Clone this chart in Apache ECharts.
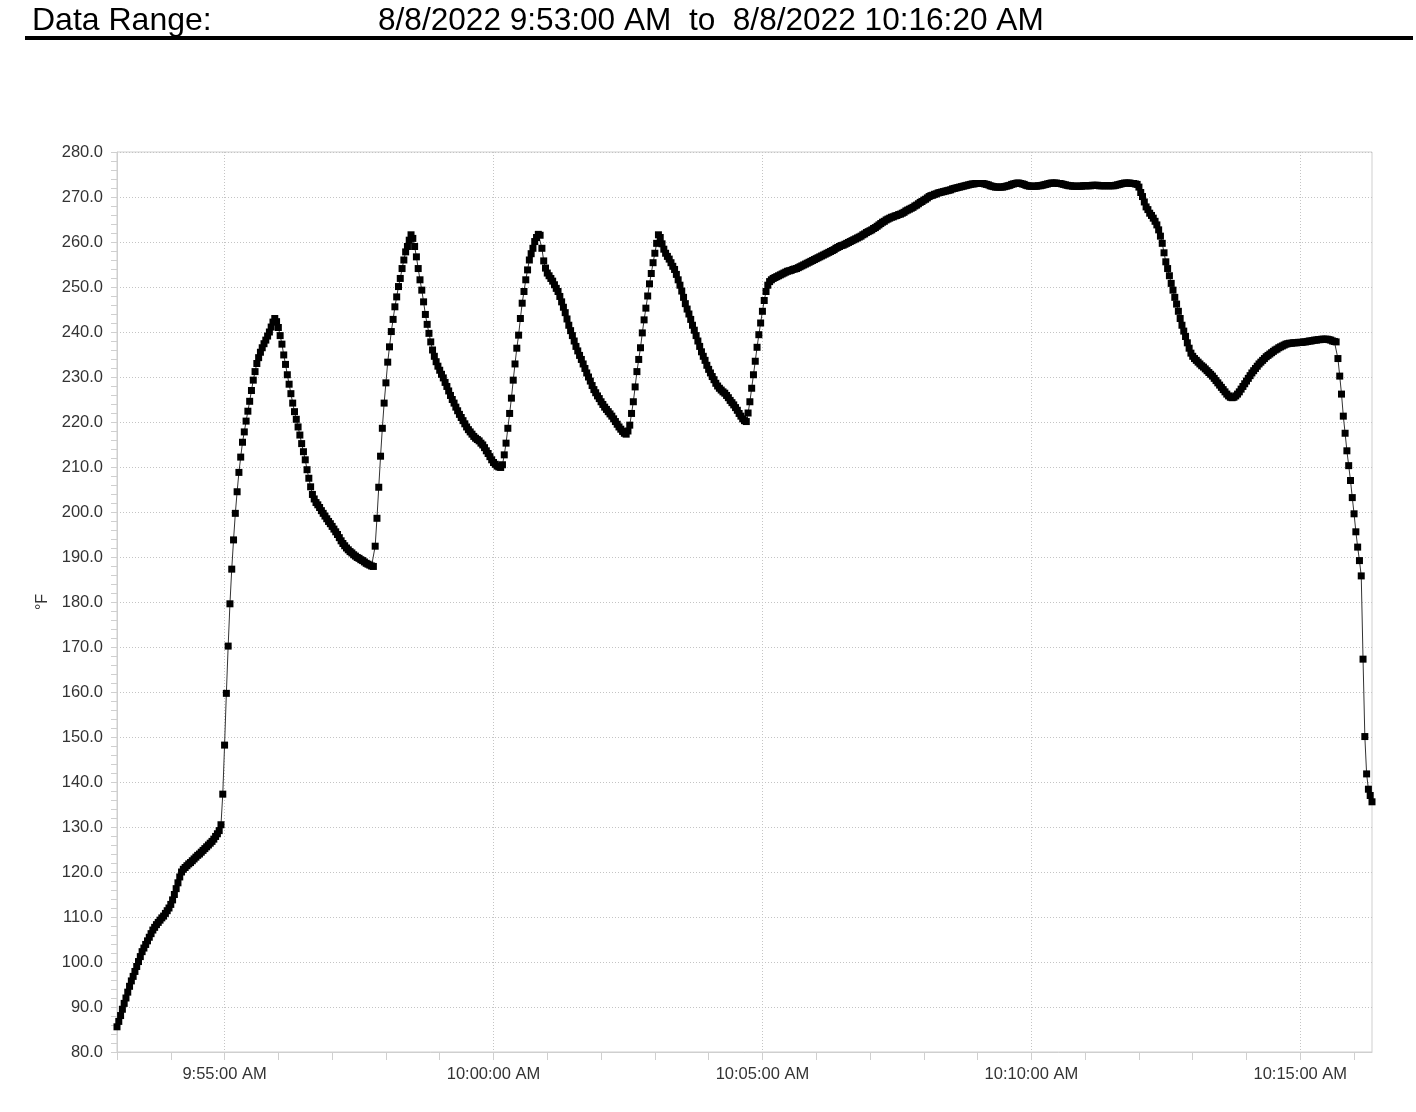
<!DOCTYPE html>
<html>
<head>
<meta charset="utf-8">
<title>Temperature log</title>
<script src="https://cdn.jsdelivr.net/npm/echarts@6/dist/echarts.min.js"></script>
<style>
  html, body { margin: 0; padding: 0; background: #fff; }
  #chart { width: 1416px; height: 1112px; }
</style>
</head>
<body>
<div id="chart"></div>
<script>
// logger samples every 2 s, starting 8/8/2022 9:53:00 AM
const startSec = 9 * 3600 + 53 * 60;
const stepSec = 2;

// temperature (°F), one array per minute of the log
let m0953 = [85.6, 86.8, 88.1, 89.5, 90.8, 92.0, 93.3, 94.6, 95.8, 96.8,
    97.9, 99.0, 100.1, 101.2, 102.3, 103.1, 103.9, 104.7, 105.5, 106.3,
    107.1, 107.7, 108.3, 108.8, 109.3, 109.8, 110.2, 110.8, 111.4, 112.0];
let m0954 = [112.8, 113.8, 115.0, 116.3, 117.6, 118.9, 120.0, 120.6, 121.0, 121.4,
    121.8, 122.1, 122.5, 122.9, 123.3, 123.7, 124.0, 124.4, 124.8, 125.2,
    125.6, 126.0, 126.4, 126.8, 127.3, 127.9, 128.5, 129.2, 130.5, 137.3];
let m0955 = [148.2, 159.7, 170.2, 179.6, 187.3, 193.8, 199.7, 204.5, 208.8, 212.2,
    215.5, 217.8, 220.2, 222.4, 224.6, 227.0, 229.3, 231.2, 233.0, 234.3,
    235.5, 236.5, 237.4, 238.2, 239.1, 240.0, 241.1, 242.2, 243.0, 242.3];
let m0956 = [241.0, 239.2, 237.3, 234.9, 232.8, 230.5, 228.4, 226.3, 224.2, 222.3,
    220.6, 218.9, 217.1, 215.2, 213.4, 211.6, 209.4, 207.5, 205.6, 203.9,
    202.9, 202.1, 201.6, 201.0, 200.3, 199.7, 199.1, 198.5, 197.9, 197.4];
let m0957 = [196.8, 196.2, 195.6, 195.0, 194.3, 193.6, 193.0, 192.5, 192.0, 191.6,
    191.2, 190.9, 190.5, 190.2, 189.9, 189.7, 189.4, 189.2, 188.9, 188.6,
    188.4, 188.2, 188.0, 187.9, 192.4, 198.6, 205.5, 212.4, 218.6, 224.2];
let m0958 = [228.7, 233.3, 236.7, 240.1, 242.8, 245.6, 247.8, 250.1, 251.9, 254.1,
    256.0, 257.8, 259.0, 260.4, 261.6, 260.8, 259.0, 256.7, 254.1, 251.6,
    249.3, 246.7, 243.9, 241.7, 239.7, 237.8, 236.0, 234.6, 233.4, 232.4];
let m0959 = [231.5, 230.6, 229.8, 228.8, 227.9, 226.9, 225.9, 225.0, 224.2, 223.3,
    222.5, 221.7, 221.0, 220.3, 219.6, 218.9, 218.3, 217.8, 217.3, 216.8,
    216.4, 216.1, 215.8, 215.3, 214.9, 214.3, 213.6, 213.0, 212.3, 211.6];
let m1000 = [211.0, 210.6, 210.2, 210.0, 209.9, 210.5, 212.7, 215.3, 218.6, 221.9,
    225.3, 229.3, 232.9, 236.4, 239.3, 243.0, 246.4, 249.0, 251.6, 253.8,
    256.0, 257.4, 258.6, 260.1, 261.0, 261.7, 261.5, 258.6, 255.8, 254.2];
let m1001 = [253.1, 252.5, 251.9, 251.3, 250.5, 249.7, 249.0, 247.9, 246.7, 245.5,
    244.3, 242.9, 241.5, 240.3, 239.2, 238.0, 236.8, 235.8, 234.8, 233.9,
    232.9, 231.9, 230.9, 230.0, 229.1, 228.1, 227.2, 226.5, 225.8, 225.2];
let m1002 = [224.5, 223.9, 223.3, 222.8, 222.3, 221.8, 221.3, 220.7, 220.1, 219.5,
    218.9, 218.4, 217.9, 217.5, 217.3, 218.0, 219.3, 221.9, 224.5, 227.8,
    231.2, 233.9, 236.5, 239.8, 242.7, 245.3, 248.0, 250.7, 253.0, 255.4];
let m1003 = [257.5, 259.7, 261.6, 261.0, 259.6, 258.4, 257.5, 256.8, 256.2, 255.4,
    254.6, 253.9, 252.8, 251.6, 250.4, 249.1, 247.7, 246.3, 245.1, 244.0,
    242.8, 241.5, 240.4, 239.2, 238.0, 236.8, 235.6, 234.6, 233.7, 232.6];
let m1004 = [231.7, 230.9, 230.1, 229.4, 228.6, 228.0, 227.5, 227.1, 226.7, 226.4,
    225.9, 225.4, 224.8, 224.3, 223.8, 223.2, 222.6, 221.9, 221.3, 220.7,
    220.3, 220.1, 222.0, 224.5, 227.5, 230.5, 233.5, 236.6, 239.4, 242.0];
let m1005 = [244.6, 247.0, 249.0, 250.4, 251.2, 251.6, 251.9, 252.1, 252.3, 252.5,
    252.7, 252.9, 253.1, 253.3, 253.5, 253.6, 253.7, 253.9, 254.0, 254.1,
    254.3, 254.5, 254.7, 254.9, 255.1, 255.3, 255.5, 255.7, 255.9, 256.1];
let m1006 = [256.3, 256.5, 256.7, 256.9, 257.1, 257.3, 257.5, 257.7, 257.9, 258.1,
    258.3, 258.6, 258.8, 259.0, 259.2, 259.3, 259.5, 259.7, 259.9, 260.1,
    260.3, 260.5, 260.7, 260.9, 261.1, 261.3, 261.6, 261.8, 262.1, 262.3];
let m1007 = [262.5, 262.7, 263.0, 263.2, 263.5, 263.8, 264.1, 264.4, 264.6, 264.9,
    265.1, 265.3, 265.5, 265.6, 265.8, 265.9, 266.1, 266.2, 266.4, 266.6,
    266.9, 267.1, 267.3, 267.5, 267.7, 268.0, 268.2, 268.5, 268.8, 269.0];
let m1008 = [269.3, 269.5, 269.8, 270.1, 270.3, 270.4, 270.6, 270.7, 270.9, 271.0,
    271.1, 271.2, 271.3, 271.4, 271.5, 271.6, 271.8, 271.9, 272.0, 272.1,
    272.2, 272.3, 272.4, 272.5, 272.6, 272.7, 272.8, 272.9, 272.9, 273.0];
let m1009 = [273.0, 273.0, 273.0, 273.0, 272.9, 272.8, 272.7, 272.5, 272.4, 272.3,
    272.2, 272.2, 272.2, 272.2, 272.2, 272.3, 272.4, 272.5, 272.6, 272.8,
    272.9, 273.0, 273.1, 273.1, 273.0, 272.9, 272.8, 272.6, 272.5, 272.4];
let m1010 = [272.4, 272.4, 272.4, 272.4, 272.5, 272.5, 272.6, 272.7, 272.8, 272.9,
    273.0, 273.1, 273.1, 273.1, 273.1, 273.0, 273.0, 272.9, 272.8, 272.7,
    272.6, 272.5, 272.5, 272.4, 272.4, 272.4, 272.4, 272.4, 272.4, 272.5];
let m1011 = [272.5, 272.5, 272.5, 272.5, 272.6, 272.6, 272.6, 272.6, 272.5, 272.5,
    272.5, 272.5, 272.5, 272.5, 272.5, 272.5, 272.5, 272.6, 272.7, 272.8,
    272.9, 273.0, 273.1, 273.1, 273.1, 273.1, 273.0, 273.0, 272.9, 272.8];
let m1012 = [272.2, 271.0, 270.1, 268.9, 267.8, 267.2, 266.4, 265.9, 265.3, 264.6,
    263.8, 262.7, 261.3, 259.7, 257.6, 255.6, 254.1, 252.5, 250.8, 249.3,
    247.7, 246.2, 244.6, 243.0, 241.5, 240.2, 239.0, 237.6, 236.4, 235.3];
let m1013 = [234.6, 234.1, 233.7, 233.3, 232.9, 232.5, 232.2, 231.8, 231.4, 231.0,
    230.6, 230.2, 229.7, 229.2, 228.7, 228.2, 227.7, 227.2, 226.7, 226.2,
    225.8, 225.5, 225.4, 225.5, 225.8, 226.2, 226.7, 227.3, 227.9, 228.5];
let m1014 = [229.1, 229.7, 230.3, 230.9, 231.4, 231.9, 232.4, 232.9, 233.3, 233.7,
    234.1, 234.5, 234.8, 235.1, 235.4, 235.7, 236.0, 236.2, 236.5, 236.7,
    236.9, 237.1, 237.3, 237.4, 237.5, 237.5, 237.6, 237.6, 237.6, 237.7];
let m1015 = [237.7, 237.7, 237.8, 237.8, 237.9, 238.0, 238.0, 238.1, 238.2, 238.2,
    238.3, 238.3, 238.4, 238.4, 238.4, 238.4, 238.3, 238.2, 238.0, 237.9,
    237.8, 234.1, 230.2, 226.2, 221.3, 217.5, 213.6, 210.3, 207.0, 203.2];
let m1016 = [199.6, 195.6, 192.2, 189.2, 185.8, 167.3, 150.1, 141.8, 138.4, 137.0, 135.6];

let tempF = [].concat(m0953, m0954, m0955, m0956, m0957, m0958, m0959, m1000,
    m1001, m1002, m1003, m1004, m1005, m1006, m1007, m1008, m1009, m1010,
    m1011, m1012, m1013, m1014, m1015, m1016);

let yTicks = { min: 80, max: 280, step: 10 };
let headerLabel = 'Data Range:';
let headerRange = '8/8/2022 9:53:00 AM  to  8/8/2022 10:16:20 AM';

function clockLabel(sec) {
    let h = Math.floor(sec / 3600);
    let m = Math.floor((sec % 3600) / 60);
    let s = sec % 60;
    let ap = h >= 12 ? 'PM' : 'AM';
    let h12 = h % 12 === 0 ? 12 : h % 12;
    return h12 + ':' + String(m).padStart(2, '0') + ':' + String(s).padStart(2, '0') + ' ' + ap;
}

let timeCats = tempF.map((v, i) => clockLabel(startSec + i * stepSec));

// every minute gets a tick, every 5 minutes a label and a grid line
function secOf(idx) { return startSec + idx * stepSec; }
function onMinute(idx) { return secOf(idx) % 60 === 0; }
function onFive(idx) { return secOf(idx) % 300 === 0; }

let font = '"Liberation Sans", Arial, sans-serif';
let gridColor = '#c4c4c4';
let axisColor = '#cfcfcf';

let chart = echarts.init(document.getElementById('chart'));
let option = {
    animation: false,
    backgroundColor: '#fff',
    textStyle: { fontFamily: font },
    graphic: [
        {
            type: 'text', left: 32, top: 5,
            style: { text: headerLabel, fontSize: 32, fontFamily: font, fill: '#000' }
        },
        {
            type: 'text', left: 378, top: 5,
            style: { text: headerRange, fontSize: 31.6, fontFamily: font, fill: '#000' }
        },
        {
            type: 'rect',
            shape: { x: 25, y: 36, width: 1388, height: 4 },
            style: { fill: '#000' }
        }
    ],
    grid: {
        left: 117, top: 152, right: 44, bottom: 60,
        show: true, borderColor: axisColor, borderWidth: 1, backgroundColor: '#fff'
    },
    xAxis: {
        type: 'category',
        data: timeCats,
        boundaryGap: false,
        axisLine: { show: true, lineStyle: { color: axisColor } },
        axisTick: {
            show: true, length: 8,
            interval: (idx) => onMinute(idx),
            lineStyle: { color: axisColor }
        },
        axisLabel: {
            interval: (idx) => onFive(idx),
            fontSize: 16.5, color: '#333', margin: 14, fontFamily: font
        },
        splitLine: {
            show: true,
            interval: (idx) => onFive(idx),
            lineStyle: { type: [1, 2], color: gridColor }
        }
    },
    yAxis: {
        type: 'value',
        min: yTicks.min, max: yTicks.max, interval: yTicks.step,
        name: '°F',
        nameLocation: 'middle',
        nameGap: 66,
        nameTextStyle: { fontSize: 16, color: '#333', fontFamily: font },
        axisLine: { show: true, lineStyle: { color: axisColor } },
        axisTick: { show: true, length: 6, lineStyle: { color: axisColor } },
        minorTick: { show: true, splitNumber: 5, length: 6, lineStyle: { color: axisColor } },
        axisLabel: {
            formatter: (v) => v.toFixed(1),
            fontSize: 16.5, color: '#333', margin: 14, fontFamily: font
        },
        splitLine: { show: true, lineStyle: { type: [1, 2], color: gridColor } }
    },
    series: [
        {
            name: 'Temperature',
            type: 'line',
            data: tempF,
            symbol: 'rect',
            symbolSize: 7,
            showAllSymbol: true,
            itemStyle: { color: '#000' },
            lineStyle: { color: '#333', width: 1 },
            silent: true
        }
    ]
};
chart.setOption(option);
</script>
</body>
</html>
